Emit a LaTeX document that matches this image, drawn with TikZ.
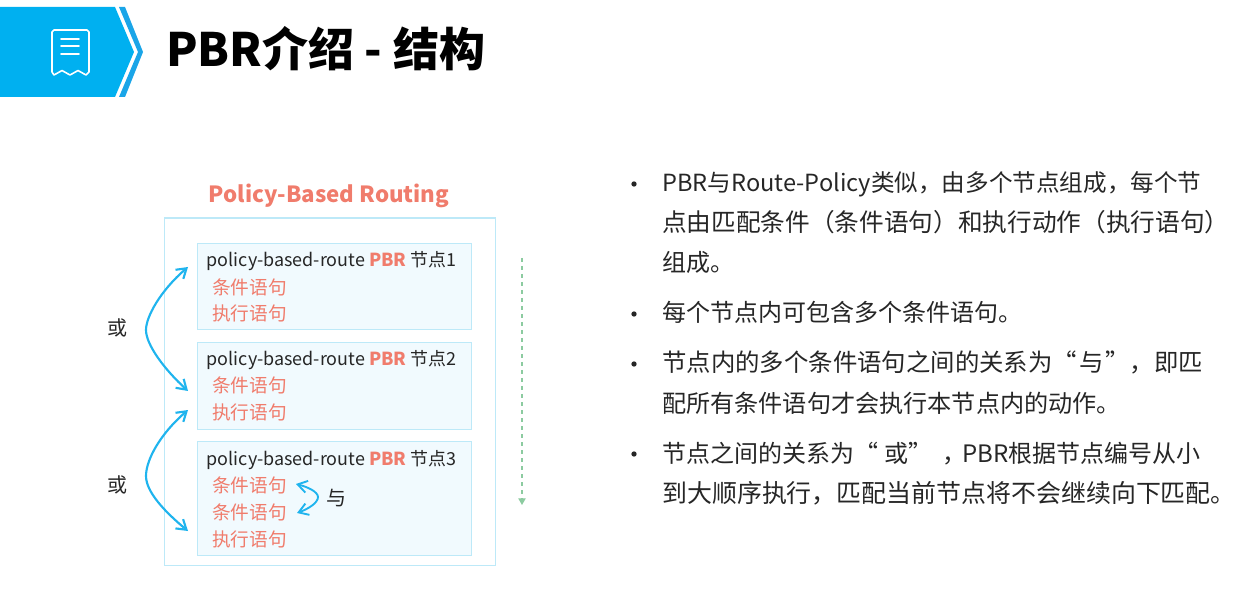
\documentclass[tikz,border=0pt]{standalone}
\usepackage{fontspec}
\setmainfont{Noto Sans CJK SC}
\usetikzlibrary{arrows.meta}
\definecolor{sky}{HTML}{00B0F0}
\definecolor{stripe}{HTML}{1AA5E8}
\definecolor{arrowblue}{HTML}{1FB4EE}
\definecolor{edgeblue}{HTML}{BDE9F8}
\definecolor{fillblue}{HTML}{F1FAFE}
\definecolor{salmon}{HTML}{F07C6C}
\definecolor{dashgreen}{HTML}{8CCBA0}
\definecolor{ink}{HTML}{262626}
\tikzset{
  x=0.75pt,y=-0.75pt,
  outerbox/.style={draw=edgeblue,line width=0.9pt,fill=white,minimum width=248.25pt,minimum height=260.25pt,inner sep=0pt},
  nodebox/.style={draw=edgeblue,line width=0.7pt,fill=fillblue,minimum width=205.5pt,inner sep=0pt},
  dtext/.style={anchor=base west,inner sep=0pt,font=\fontsize{13.45}{16}\selectfont,text=ink},
  ctext/.style={anchor=base west,inner sep=0pt,font=\fontsize{14}{16}\selectfont,text=salmon},
  btext/.style={anchor=base west,inner sep=0pt,font=\fontsize{18}{20}\selectfont,text=ink},
  bdot/.style={circle,fill=ink,inner sep=0pt,minimum size=4pt},
  curvearrow/.style={draw=arrowblue,line width=1.6pt,{Straight Barb[length=7pt,width=9pt]}-{Straight Barb[length=7pt,width=9pt]}},
  iconline/.style={draw=white,line width=1.2pt,line cap=round,line join=round},
}
\begin{document}
\begin{tikzpicture}
\useasboundingbox (0,0) rectangle (1256,609);
% banner
\fill[sky] (0,7) -- (115,7) -- (134,52) -- (115,97) -- (0,97) -- cycle;
\fill[stripe] (119,7) -- (125,7) -- (143,52) -- (125,97) -- (119,97) -- (138,52) -- cycle;
\draw[iconline] (54,30) -- (87,30) -- (89,32) -- (89,72) -- (86,75) -- (78,70.5) -- (70,75) -- (62,70.5) -- (54,75) -- (52,72) -- (52,32) -- cycle;
\draw[iconline] (61,39) -- (79,39) (61,46) -- (79,46) (61,54) -- (79,54);
\node[anchor=base west,inner sep=0pt,font=\fontsize{34.5}{40}\selectfont\bfseries,text=black] (title) at (166,67) {PBR介绍 - 结构};
% left diagram
\node[anchor=base,inner sep=0pt,font=\fontsize{16.7}{20}\selectfont\bfseries,text=salmon] (heading) at (329,203) {Policy-Based Routing};
\node[outerbox,anchor=north west] (outer) at (163.5,217.5) {};
\node[nodebox,anchor=north west,minimum height=64.5pt] (n1) at (196.5,243.5) {};
\node[nodebox,anchor=north west,minimum height=64.5pt] (n2) at (196.5,342.5) {};
\node[nodebox,anchor=north west,minimum height=85.5pt] (n3) at (196.5,440.5) {};
\node[dtext] (t1) at (206.5,267) {policy-based-route \textcolor{salmon}{\bfseries PBR} 节点1};
\node[ctext] (c1a) at (212,295) {条件语句};
\node[ctext] (c1b) at (212,321) {执行语句};
\node[dtext] (t2) at (206.5,366) {policy-based-route \textcolor{salmon}{\bfseries PBR} 节点2};
\node[ctext] (c2a) at (212,392.5) {条件语句};
\node[ctext] (c2b) at (212,419) {执行语句};
\node[dtext] (t3) at (206.5,465) {policy-based-route \textcolor{salmon}{\bfseries PBR} 节点3};
\node[ctext] (c3a) at (212,492.5) {条件语句};
\node[ctext] (c3b) at (212,519) {条件语句};
\node[ctext] (c3c) at (212,546) {执行语句};
\node[dtext,font=\fontsize{15}{18}\selectfont] (or1) at (107,336) {或};
\node[dtext,font=\fontsize{15}{18}\selectfont] (or2) at (107,492) {或};
\node[dtext,font=\fontsize{15}{18}\selectfont] (and) at (326,505) {与};
\coordinate (a1s) at (188,267);
\coordinate (a1e) at (188,391);
\coordinate (a2s) at (188,410);
\coordinate (a2e) at (188,531);
\coordinate (a3s) at (296,484);
\coordinate (a3e) at (297,513);
\draw[curvearrow] (a1s) .. controls (160,291) and (146,317) .. (146,330) .. controls (146,345) and (165,370) .. (a1e);
\draw[curvearrow] (a2s) .. controls (160,434) and (146,460) .. (146,476) .. controls (146,492) and (165,512) .. (a2e);
\draw[curvearrow,line width=1.4pt] (a3s) .. controls (308,487) and (318,492) .. (318,497) .. controls (318,503) and (308,509) .. (a3e);
\coordinate (gs) at (522,258);
\coordinate (ge) at (522,505);
\draw[dashgreen,line width=0.9pt,dashed,-{Triangle[length=5pt,width=5.5pt]}] (gs) -- (ge);
% right text
\node[bdot] (b1) at (634,184) {};
\node[bdot] (b2) at (634,314) {};
\node[bdot] (b3) at (634,364) {};
\node[bdot] (b4) at (634,454) {};
\node[btext,font=\fontsize{17.7}{20}\selectfont] (l1) at (662,192) {PBR与Route-Policy类似，由多个节点组成，每个节};
\node[btext,font=\fontsize{18.5}{20}\selectfont] (l2) at (662,232) {点由匹配条件（条件语句）和执行动作（执行语句）};
\node[btext] (l3) at (662,272) {组成。};
\node[btext] (l4) at (662,322) {每个节点内可包含多个条件语句。};
\node[btext,font=\fontsize{18.3}{20}\selectfont] (l5) at (662,372) {节点内的多个条件语句之间的关系为“\hspace{2pt}与\hspace{1pt}”，即匹};
\node[btext,font=\fontsize{18.1}{20}\selectfont] (l6) at (662,412) {配所有条件语句才会执行本节点内的动作。};
\node[btext] (l7) at (662,462) {节点之间的关系为“\hspace{5pt}或”\hspace{7pt}，\hspace{-3pt}PBR根据节点编号从小};
\node[btext,font=\fontsize{18.7}{20}\selectfont] (l8) at (662,502) {到大顺序执行，匹配当前节点将不会继续向下匹配。};
\end{tikzpicture}
\end{document}
